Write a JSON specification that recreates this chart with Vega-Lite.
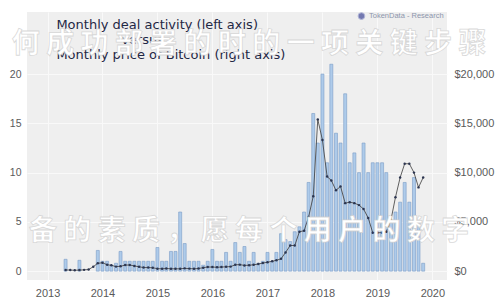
{
  "$schema": "https://vega.github.io/schema/vega-lite/v6.json",
  "width": 420,
  "height": 268,
  "autosize": "none",
  "padding": {"left": 27, "top": 12, "right": 53, "bottom": 20},
  "background": "white",
  "config": {
    "view": {"stroke": null, "fill": "#efefef"},
    "axis": {"domain": false, "ticks": false, "gridColor": "#f9f9f9", "gridWidth": 1, "labelColor": "#5a5a5a", "labelFont": "Liberation Sans", "labelFontSize": 10.5, "title": null}
  },
  "datasets": {
    "deals": [
      {"date": "2013-05-01", "deals": 1.2}, {"date": "2013-08-01", "deals": 1.1}, {"date": "2013-12-01", "deals": 2.1},
      {"date": "2014-01-01", "deals": 1}, {"date": "2014-02-01", "deals": 1}, {"date": "2014-03-01", "deals": 0.6}, {"date": "2014-04-01", "deals": 0.8}, {"date": "2014-05-01", "deals": 2}, {"date": "2014-06-01", "deals": 1}, {"date": "2014-07-01", "deals": 1}, {"date": "2014-08-01", "deals": 1}, {"date": "2014-09-01", "deals": 1}, {"date": "2014-10-01", "deals": 1}, {"date": "2014-11-01", "deals": 1}, {"date": "2014-12-01", "deals": 1},
      {"date": "2015-01-01", "deals": 2.4}, {"date": "2015-02-01", "deals": 1}, {"date": "2015-03-01", "deals": 1}, {"date": "2015-04-01", "deals": 2}, {"date": "2015-05-01", "deals": 2}, {"date": "2015-06-01", "deals": 6}, {"date": "2015-07-01", "deals": 2.8}, {"date": "2015-08-01", "deals": 1}, {"date": "2015-09-01", "deals": 1}, {"date": "2015-10-01", "deals": 1}, {"date": "2015-11-01", "deals": 0.6}, {"date": "2015-12-01", "deals": 1},
      {"date": "2016-01-01", "deals": 2.2}, {"date": "2016-02-01", "deals": 1}, {"date": "2016-03-01", "deals": 1}, {"date": "2016-04-01", "deals": 1.9}, {"date": "2016-05-01", "deals": 1}, {"date": "2016-06-01", "deals": 2.9}, {"date": "2016-07-01", "deals": 1.9}, {"date": "2016-08-01", "deals": 2.5}, {"date": "2016-09-01", "deals": 1}, {"date": "2016-10-01", "deals": 1.9}, {"date": "2016-11-01", "deals": 0.8}, {"date": "2016-12-01", "deals": 1},
      {"date": "2017-01-01", "deals": 1.9}, {"date": "2017-02-01", "deals": 1}, {"date": "2017-03-01", "deals": 1.9}, {"date": "2017-04-01", "deals": 3.8}, {"date": "2017-05-01", "deals": 3.2}, {"date": "2017-06-01", "deals": 3}, {"date": "2017-07-01", "deals": 4}, {"date": "2017-08-01", "deals": 4.5}, {"date": "2017-09-01", "deals": 6}, {"date": "2017-10-01", "deals": 9}, {"date": "2017-11-01", "deals": 16}, {"date": "2017-12-01", "deals": 13},
      {"date": "2018-01-01", "deals": 20}, {"date": "2018-02-01", "deals": 11}, {"date": "2018-03-01", "deals": 21}, {"date": "2018-04-01", "deals": 14}, {"date": "2018-05-01", "deals": 13}, {"date": "2018-06-01", "deals": 18}, {"date": "2018-07-01", "deals": 11}, {"date": "2018-08-01", "deals": 12}, {"date": "2018-09-01", "deals": 10}, {"date": "2018-10-01", "deals": 13}, {"date": "2018-11-01", "deals": 10}, {"date": "2018-12-01", "deals": 11},
      {"date": "2019-01-01", "deals": 11}, {"date": "2019-02-01", "deals": 11}, {"date": "2019-03-01", "deals": 10}, {"date": "2019-04-01", "deals": 5}, {"date": "2019-05-01", "deals": 6}, {"date": "2019-06-01", "deals": 7}, {"date": "2019-07-01", "deals": 9}, {"date": "2019-08-01", "deals": 7}, {"date": "2019-09-01", "deals": 9.5}, {"date": "2019-10-01", "deals": 5}, {"date": "2019-11-01", "deals": 0.8}
    ],
    "price": [
      {"date": "2013-05-01", "price": 120}, {"date": "2013-06-01", "price": 108}, {"date": "2013-07-01", "price": 90}, {"date": "2013-08-01", "price": 105}, {"date": "2013-09-01", "price": 130}, {"date": "2013-10-01", "price": 160}, {"date": "2013-11-01", "price": 450}, {"date": "2013-12-01", "price": 800},
      {"date": "2014-01-01", "price": 850}, {"date": "2014-02-01", "price": 650}, {"date": "2014-03-01", "price": 590}, {"date": "2014-04-01", "price": 460}, {"date": "2014-05-01", "price": 490}, {"date": "2014-06-01", "price": 615}, {"date": "2014-07-01", "price": 620}, {"date": "2014-08-01", "price": 530}, {"date": "2014-09-01", "price": 440}, {"date": "2014-10-01", "price": 365}, {"date": "2014-11-01", "price": 365}, {"date": "2014-12-01", "price": 340},
      {"date": "2015-01-01", "price": 250}, {"date": "2015-02-01", "price": 235}, {"date": "2015-03-01", "price": 270}, {"date": "2015-04-01", "price": 235}, {"date": "2015-05-01", "price": 237}, {"date": "2015-06-01", "price": 237}, {"date": "2015-07-01", "price": 280}, {"date": "2015-08-01", "price": 255}, {"date": "2015-09-01", "price": 235}, {"date": "2015-10-01", "price": 265}, {"date": "2015-11-01", "price": 350}, {"date": "2015-12-01", "price": 420},
      {"date": "2016-01-01", "price": 410}, {"date": "2016-02-01", "price": 400}, {"date": "2016-03-01", "price": 415}, {"date": "2016-04-01", "price": 435}, {"date": "2016-05-01", "price": 460}, {"date": "2016-06-01", "price": 640}, {"date": "2016-07-01", "price": 660}, {"date": "2016-08-01", "price": 580}, {"date": "2016-09-01", "price": 605}, {"date": "2016-10-01", "price": 640}, {"date": "2016-11-01", "price": 720}, {"date": "2016-12-01", "price": 820},
      {"date": "2017-01-01", "price": 900}, {"date": "2017-02-01", "price": 1000}, {"date": "2017-03-01", "price": 1100}, {"date": "2017-04-01", "price": 1250}, {"date": "2017-05-01", "price": 1900}, {"date": "2017-06-01", "price": 2600}, {"date": "2017-07-01", "price": 2600}, {"date": "2017-08-01", "price": 4000}, {"date": "2017-09-01", "price": 4100}, {"date": "2017-10-01", "price": 5500}, {"date": "2017-11-01", "price": 7600}, {"date": "2017-12-01", "price": 15400},
      {"date": "2018-01-01", "price": 13300}, {"date": "2018-02-01", "price": 9600}, {"date": "2018-03-01", "price": 9200}, {"date": "2018-04-01", "price": 8200}, {"date": "2018-05-01", "price": 8600}, {"date": "2018-06-01", "price": 6900}, {"date": "2018-07-01", "price": 7000}, {"date": "2018-08-01", "price": 6900}, {"date": "2018-09-01", "price": 6700}, {"date": "2018-10-01", "price": 6300}, {"date": "2018-11-01", "price": 5400}, {"date": "2018-12-01", "price": 3900},
      {"date": "2019-01-01", "price": 3900}, {"date": "2019-02-01", "price": 3900}, {"date": "2019-03-01", "price": 4000}, {"date": "2019-04-01", "price": 5200}, {"date": "2019-05-01", "price": 7500}, {"date": "2019-06-01", "price": 9500}, {"date": "2019-07-01", "price": 10900}, {"date": "2019-08-01", "price": 10900}, {"date": "2019-09-01", "price": 10000}, {"date": "2019-10-01", "price": 8500}, {"date": "2019-11-01", "price": 9500}
    ],
    "titles": [
      {"date": "2013-03-01", "v": 24.98, "label": "Monthly deal activity (left axis)"},
      {"date": "2014-05-05", "v": 23.45, "label": "versus"},
      {"date": "2013-03-01", "v": 21.92, "label": "Monthly price of Bitcoin (right axis)"}
    ],
    "credit": [
      {"date": "2018-11-06", "v": 25.89, "label": "TokenData - Research"}
    ],
    "logo": [
      {"date": "2018-09-17", "v": 25.89}
    ],
    "watermark": [
      {"date": "2016-09-01", "v": 22.95, "label": "何 成 功 部 署 的 时 的 一 项 关 键 步 骤"},
      {"date": "2016-09-01", "v": 3.98, "label": "备 的 素 质 ， 愿 每 个 用 户 的 数 字"}
    ]
  },
  "layer": [
    {
      "data": {"name": "deals"},
      "mark": {"type": "bar", "size": 3, "fill": "#aecbea", "stroke": "#7b9cc6", "strokeWidth": 0.6},
      "encoding": {
        "x": {"field": "date", "type": "temporal",
          "scale": {"domain": ["2012-09-20", "2020-03-05"]},
          "axis": {"format": "%Y", "tickCount": {"interval": "year", "step": 1}, "labelPadding": 7, "labelFontSize": 11, "grid": true}},
        "y": {"field": "deals", "type": "quantitative", "scale": {"domain": [-0.9, 26.3], "nice": false, "zero": false},
          "axis": {"orient": "left", "values": [0, 5, 10, 15, 20], "labelPadding": 6, "grid": true}}
      }
    },
    {
      "data": {"name": "price"},
      "mark": {"type": "line", "color": "#3a3a3a", "strokeWidth": 0.8, "point": {"filled": true, "size": 6, "color": "#2c3550"}},
      "encoding": {
        "x": {"field": "date", "type": "temporal"},
        "y": {"field": "price", "type": "quantitative", "scale": {"domain": [-900, 26300], "nice": false, "zero": false},
          "axis": {"orient": "right", "values": [0, 5000, 10000, 15000, 20000], "format": "$,.0f", "labelPadding": 7, "labelFontSize": 11, "grid": false}}
      }
    },
    {
      "data": {"name": "titles"},
      "mark": {"type": "text", "align": "left", "baseline": "middle", "font": "DejaVu Sans", "fontSize": 13, "color": "#1f2845"},
      "encoding": {
        "x": {"field": "date", "type": "temporal"},
        "y": {"field": "v", "type": "quantitative", "scale": {"domain": [-0.9, 26.3], "nice": false, "zero": false}, "axis": null},
        "text": {"field": "label"}
      }
    },
    {
      "data": {"name": "logo"},
      "mark": {"type": "point", "filled": true, "size": 45, "color": "#3f4796", "stroke": "#9aa0d0", "strokeWidth": 1},
      "encoding": {
        "x": {"field": "date", "type": "temporal"},
        "y": {"field": "v", "type": "quantitative", "scale": {"domain": [-0.9, 26.3], "nice": false, "zero": false}, "axis": null}
      }
    },
    {
      "data": {"name": "credit"},
      "mark": {"type": "text", "align": "left", "baseline": "middle", "font": "Liberation Sans", "fontSize": 7.5, "color": "#8d96ad"},
      "encoding": {
        "x": {"field": "date", "type": "temporal"},
        "y": {"field": "v", "type": "quantitative", "scale": {"domain": [-0.9, 26.3], "nice": false, "zero": false}, "axis": null},
        "text": {"field": "label"}
      }
    },
    {
      "data": {"name": "watermark"},
      "mark": {"type": "text", "align": "center", "baseline": "middle", "font": "Noto Sans CJK SC", "fontSize": 28, "fontWeight": "bold", "color": "#ffffff", "stroke": "#cfcfcf", "strokeWidth": 0.8, "strokeOpacity": 0.8},
      "encoding": {
        "x": {"field": "date", "type": "temporal"},
        "y": {"field": "v", "type": "quantitative", "scale": {"domain": [-0.9, 26.3], "nice": false, "zero": false}, "axis": null},
        "text": {"field": "label"}
      }
    }
  ],
  "resolve": {"scale": {"y": "independent"}}
}
